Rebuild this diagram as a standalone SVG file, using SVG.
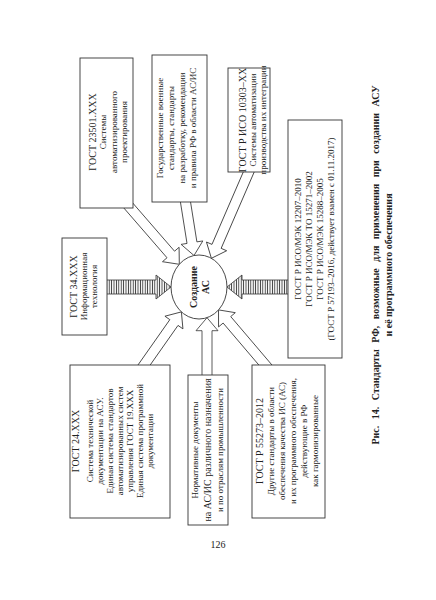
<svg xmlns="http://www.w3.org/2000/svg" width="436" height="600" viewBox="0 0 436 600">
<style>
.box{fill:#fff;stroke:#333;stroke-width:0.9}
.t{font-family:"Liberation Serif","Times New Roman",serif;font-size:9px;fill:#222;text-anchor:middle}
.h{font-size:10px}
.cap{font-family:"Liberation Serif","Times New Roman",serif;font-size:10px;font-weight:bold;fill:#222;text-anchor:middle}
.ha{fill:#fff;stroke:#333;stroke-width:0.8}
.sa{fill:url(#stripes);stroke:#333;stroke-width:0.8}
</style>
<defs>
<pattern id="stripes" patternUnits="userSpaceOnUse" width="2.4" height="10">
<rect width="2.4" height="10" fill="#fff"/>
<line x1="1.2" y1="0" x2="1.2" y2="10" stroke="#333" stroke-width="0.9"/>
</pattern>
</defs>
<rect width="436" height="600" fill="#fff"/>
<g id="connectors">
<path class="ha" transform="translate(179.3,264.3) rotate(49.06)" d="M-80,-5 H-13 V-11 L0,0 L-13,11 V5 H-80"/>
<path class="ha" transform="translate(194,255.5) rotate(80.96)" d="M-58,-5 H-13 V-11 L0,0 L-13,11 V5 H-58"/>
<path class="ha" transform="translate(211.4,258.3) rotate(113.4)" d="M-98,-5 H-13 V-11 L0,0 L-13,11 V5 H-98"/>
<path class="ha" transform="translate(181.4,311.9) rotate(-54.9)" d="M-69,-5 H-13 V-11 L0,0 L-13,11 V5 H-69"/>
<path class="ha" transform="translate(207,317.7) rotate(-90)" d="M-61,-5 H-13 V-11 L0,0 L-13,11 V5 H-61"/>
<path class="ha" transform="translate(218.5,309.9) rotate(-130.4)" d="M-77,-5 H-13 V-11 L0,0 L-13,11 V5 H-77"/>
<path class="sa" d="M105,280 H156 V275 L171,287 L156,299 V294 H105 Z"/>
<path class="sa" d="M290,280 H242 V275 L227,287 L242,299 V294 H290 Z"/>
</g>
<g id="center">
<ellipse cx="199" cy="287" rx="28" ry="32" fill="#fff" stroke="#333" stroke-width="0.9"/>
<text class="cap" transform="translate(197,287) rotate(-90)" x="0" y="0">Создание</text>
<text class="cap" transform="translate(209,287) rotate(-90)" x="0" y="0">АС</text>
</g>
<g id="boxA">
<rect class="box" x="80" y="58" width="53" height="150"/>
<text class="t h" transform="translate(95.5,132) rotate(-90)">ГОСТ 23501.XXX</text>
<text class="t" transform="translate(106,132) rotate(-90)">Системы</text>
<text class="t" transform="translate(116.5,132) rotate(-90)">автоматизированного</text>
<text class="t" transform="translate(127,132) rotate(-90)">проектирования</text>
</g>
<g id="boxB">
<rect class="box" x="152" y="55" width="55" height="147"/>
<text class="t" transform="translate(163,128) rotate(-90)">Государственные военные</text>
<text class="t" transform="translate(174,128) rotate(-90)">стандарты, стандарты</text>
<text class="t" transform="translate(185,128) rotate(-90)">на разработку, рекомендации</text>
<text class="t" transform="translate(196,128) rotate(-90)">и правила РФ в области АС/ИС</text>
</g>
<g id="boxC">
<rect class="box" x="228" y="68" width="42" height="104"/>
<text class="t h" transform="translate(246,120) rotate(-90)">ГОСТ Р ИСО 10303–XX</text>
<text class="t" transform="translate(256,120) rotate(-90)">Системы автоматизации</text>
<text class="t" transform="translate(265.5,120) rotate(-90)">производства их интеграции</text>
</g>
<g id="boxD">
<rect class="box" x="288" y="120" width="54" height="238"/>
<text class="t" transform="translate(301,239) rotate(-90)">ГОСТ Р ИСО/МЭК 12207–2010</text>
<text class="t" transform="translate(312,239) rotate(-90)">ГОСТ Р ИСО/МЭК ТО 15271–2002</text>
<text class="t" transform="translate(323,239) rotate(-90)">ГОСТ Р ИСО/МЭК 15288–2005</text>
<text class="t" transform="translate(334,239) rotate(-90)">(ГОСТ Р 57193–2016, действует взамен с 01.11.2017)</text>
</g>
<g id="boxE">
<rect class="box" x="62" y="238" width="45" height="97"/>
<text class="t h" transform="translate(76.5,286.5) rotate(-90)">ГОСТ 34.XXX</text>
<text class="t" transform="translate(86.5,286.5) rotate(-90)">Информационная</text>
<text class="t" transform="translate(96.5,286.5) rotate(-90)">технология</text>
</g>
<g id="boxF">
<rect class="box" x="70" y="365" width="100" height="153"/>
<text class="t h" transform="translate(79,441) rotate(-90)">ГОСТ 24.XXX</text>
<text class="t" transform="translate(93,441) rotate(-90)">Система технической</text>
<text class="t" transform="translate(103,441) rotate(-90)">документации на АСУ.</text>
<text class="t" transform="translate(113,441) rotate(-90)">Единая система стандартов</text>
<text class="t" transform="translate(123,441) rotate(-90)">автоматизированных систем</text>
<text class="t" transform="translate(133,441) rotate(-90)">управления ГОСТ 19.XXX</text>
<text class="t" transform="translate(143,441) rotate(-90)">Единая система программной</text>
<text class="t" transform="translate(153,441) rotate(-90)">документации</text>
</g>
<g id="boxG">
<rect class="box" x="188" y="375" width="40" height="150"/>
<text class="t" transform="translate(198,450) rotate(-90)">Нормативные документы</text>
<text class="t h" transform="translate(211,450) rotate(-90)">на АС/ИС различного назначения</text>
<text class="t" transform="translate(223,450) rotate(-90)">и по отраслям промышленности</text>
</g>
<g id="boxH">
<rect class="box" x="252" y="365" width="73" height="153"/>
<text class="t h" transform="translate(263,441) rotate(-90)">ГОСТ Р 55273–2012</text>
<text class="t" transform="translate(274,441) rotate(-90)">Другие стандарты в области</text>
<text class="t" transform="translate(285,441) rotate(-90)">обеспечения качества ИС (АС)</text>
<text class="t" transform="translate(296,441) rotate(-90)">и их программного обеспечения,</text>
<text class="t" transform="translate(307,441) rotate(-90)">действующие в РФ</text>
<text class="t" transform="translate(318,441) rotate(-90)">как гармонизированные</text>
</g>
<g id="caption">
<text class="cap" transform="translate(378.5,265) rotate(-90)" word-spacing="4">Рис. 14. Стандарты РФ, возможные для применения при создании АСУ</text>
<text class="cap" transform="translate(391.5,265) rotate(-90)">и её программного обеспечения</text>
</g>
<text class="t h" x="218" y="548" style="font-size:10px">126</text>
</svg>
